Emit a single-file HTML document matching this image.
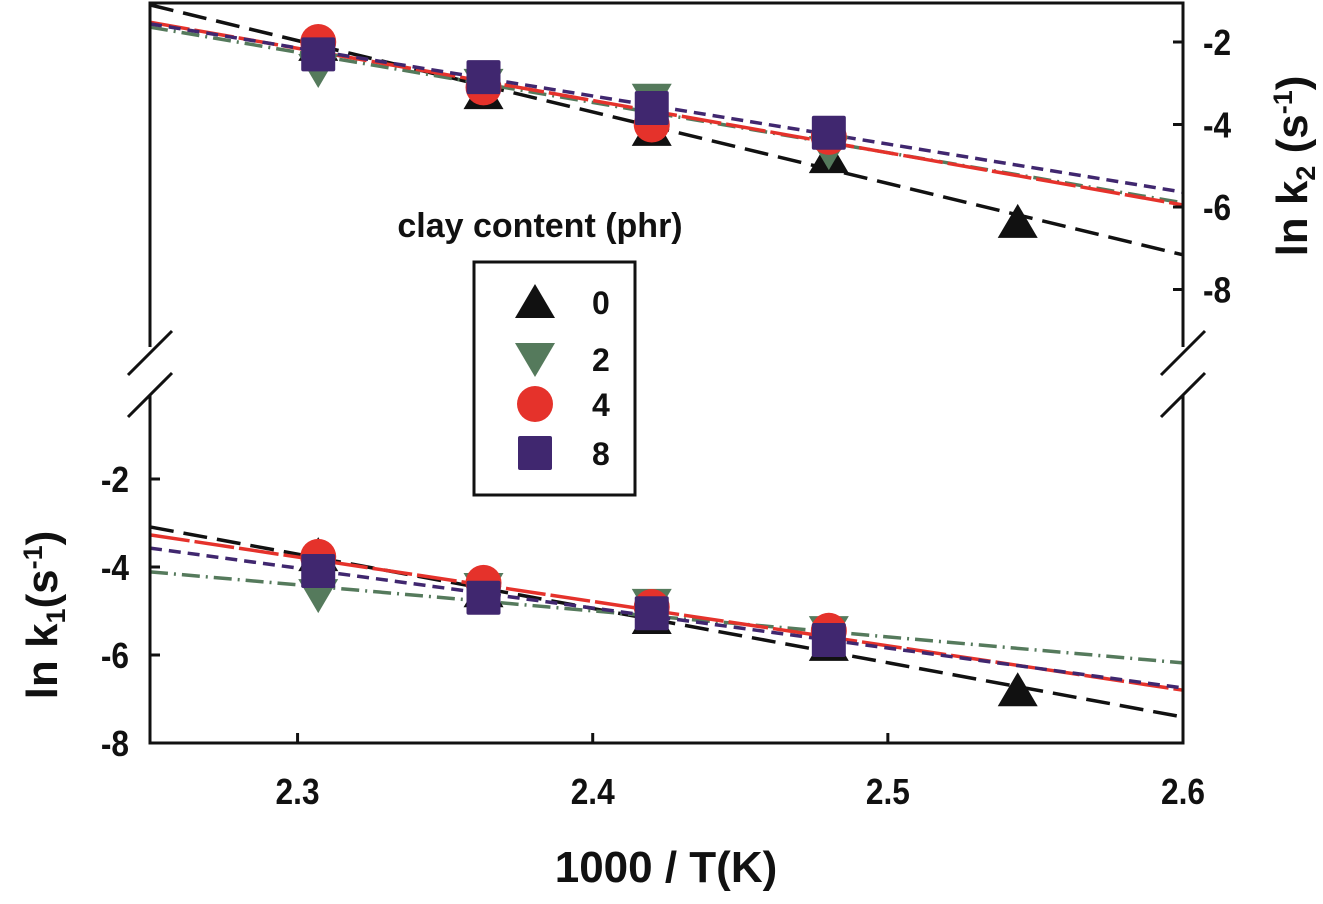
<!DOCTYPE html>
<html><head><meta charset="utf-8"><style>
body{margin:0;background:#fff;}
svg text{font-family:"Liberation Sans",Arial,sans-serif;font-weight:bold;fill:#111;}
</style></head><body>
<svg id="chart" width="1323" height="899" viewBox="0 0 1323 899" xmlns="http://www.w3.org/2000/svg">
<g id="lines"></g><g id="marks"></g><g id="axes"></g>
</svg>
<script>
const xValues=[2.307,2.363,2.420,2.480,2.544];
const seriesNames=["0","2","4","8"];
const k2Clay0=[-2.07,-3.24,-4.13,-4.79,-6.36];
const k2Clay2=[-2.68,-3.04,-3.4,-4.67];
const k2Clay4=[-2.0,-3.1,-4.0,-4.3];
const k2Clay8=[-2.3,-2.85,-3.6,-4.2];
const k1Clay0=[-3.73,-4.55,-5.16,-5.77,-6.8];
const k1Clay2=[-4.64,-4.5,-4.86,-5.48];
const k1Clay4=[-3.77,-4.36,-4.91,-5.45];
const k1Clay8=[-4.09,-4.70,-5.05,-5.66];
// fit lines: value at x=2.25 and x=2.6
const k2FitStart=[-1.10,-1.64,-1.52,-1.56];
const k2FitEnd=[-7.16,-5.90,-5.95,-5.64];
const k1FitStart=[-3.09,-4.11,-3.27,-3.57];
const k1FitEnd=[-7.41,-6.18,-6.80,-6.75];
const xTicks=[2.3,2.4,2.5,2.6];
const xTickLabels=["2.3","2.4","2.5","2.6"];
const yTicks=[-2,-4,-6,-8];
const yTickLabels=["-2","-4","-6","-8"];

const NS="http://www.w3.org/2000/svg";
const X0=150,X1=1183,TOP=3,BOT=743;
const xs=v=>X0+(v-2.25)*(X1-X0)/0.35;
const yTop=v=>42-(v+2)*41.25;
const yBot=v=>479-(v+2)*44;
const colors=["#111111","#557a5c","#e5322b","#40276f"];
const dashes=["24,10","18,6,2,6","40,5","12,7"];
function mk(tag,attrs,parent){const e=document.createElementNS(NS,tag);for(const k in attrs)e.setAttribute(k,attrs[k]);parent.appendChild(e);return e;}
const gL=document.getElementById('lines'),gM=document.getElementById('marks'),gA=document.getElementById('axes');

function line(s,e,i,yf,panel){
  const l=mk('line',{x1:X0,y1:yf(s),x2:X1,y2:yf(e),stroke:colors[i],'stroke-width':3.5,'stroke-dasharray':dashes[i]},gL);
  
  
}
for(let i=0;i<4;i++){line(k2FitStart[i],k2FitEnd[i],i,yTop,'k2');line(k1FitStart[i],k1FitEnd[i],i,yBot,'k1');}

function marker(i,cx,cy,parent){
  let e;
  if(i===0)e=mk('polygon',{points:`${cx-20},${cy+16} ${cx+20},${cy+16} ${cx},${cy-18}`,fill:colors[0]},parent);
  else if(i===1)e=mk('polygon',{points:`${cx-20},${cy-16} ${cx+20},${cy-16} ${cx},${cy+18}`,fill:colors[1]},parent);
  else if(i===2)e=mk('circle',{cx:cx,cy:cy,r:18,fill:colors[2]},parent);
  else e=mk('rect',{x:cx-17,y:cy-17,width:34,height:34,rx:2,fill:colors[3]},parent);
  return e;
}
const k2=[k2Clay0,k2Clay2,k2Clay4,k2Clay8],k1=[k1Clay0,k1Clay2,k1Clay4,k1Clay8];
for(let i=0;i<4;i++){
  k2[i].forEach((v,j)=>{const e=marker(i,xs(xValues[j]),yTop(v),gM);
    
    });
  k1[i].forEach((v,j)=>{const e=marker(i,xs(xValues[j]),yBot(v),gM);
    
    });
}
const st={stroke:'#111','stroke-width':3,fill:'none'};
mk('path',Object.assign({d:`M${X0},347 L${X0},${TOP} L${X1},${TOP} L${X1},347 M${X0},395 L${X0},${BOT} L${X1},${BOT} L${X1},395`},st),gA);
for(const bx of [X0,X1]){
  mk('line',Object.assign({x1:bx-22,y1:375,x2:bx+22,y2:331},st),gA);
  mk('line',Object.assign({x1:bx-22,y1:417,x2:bx+22,y2:373},st),gA);
}
xTicks.forEach((v,i)=>{const x=xs(v);
  mk('line',Object.assign({x1:x,y1:BOT,x2:x,y2:BOT-10},st),gA);
  const t=mk('text',{x:x,y:804,'text-anchor':'middle','font-size':36,transform:`translate(${x},0) scale(0.88,1) translate(${-x},0)`},gA);t.textContent=xTickLabels[i];
  });
yTicks.forEach((v,i)=>{
  let y=yBot(v);
  mk('line',Object.assign({x1:X0,y1:y,x2:X0+10,y2:y},st),gA);
  let t=mk('text',{x:129,y:y+13,'text-anchor':'end','font-size':36,transform:`translate(129,0) scale(0.88,1) translate(-129,0)`},gA);t.textContent=yTickLabels[i];
  
  y=yTop(v);
  mk('line',Object.assign({x1:X1,y1:y,x2:X1-10,y2:y},st),gA);
  t=mk('text',{x:1203,y:y+13,'text-anchor':'start','font-size':36,transform:`translate(1203,0) scale(0.88,1) translate(-1203,0)`},gA);t.textContent=yTickLabels[i];
  
});
mk('rect',{x:474,y:262,width:161,height:233,fill:'#fff',stroke:'#111','stroke-width':3},gA);
const rows=[302,359,404,453];
for(let i=0;i<4;i++){const e=marker(i,535,rows[i],gA);
  
  
  const t=mk('text',{x:592,y:rows[i]+12,'font-size':32},gA);t.textContent=seriesNames[i];
  }
</script>
<svg style="position:absolute;left:0;top:0" width="1323" height="899">
<text x="540" y="237" text-anchor="middle" font-size="34">clay content (phr)</text>
<text x="666" y="882" text-anchor="middle" font-size="44">1000 / T(K)</text>
<text transform="translate(57,615) rotate(-90)" text-anchor="middle" font-size="44">ln k<tspan font-size="27" dy="8">1</tspan><tspan dy="-8">(s</tspan><tspan font-size="27" dy="-15">-1</tspan><tspan dy="15">)</tspan></text>
<text transform="translate(1307,166) rotate(-90)" text-anchor="middle" font-size="44">ln k<tspan font-size="27" dy="8">2</tspan><tspan dy="-8"> (s</tspan><tspan font-size="27" dy="-15">-1</tspan><tspan dy="15">)</tspan></text>
</svg>
</body></html>
